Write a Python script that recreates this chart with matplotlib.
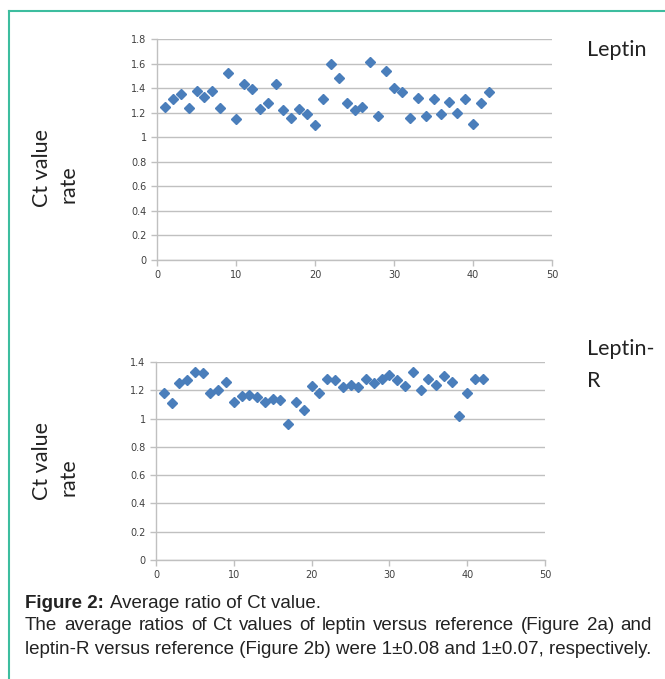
import numpy as np
import matplotlib.pyplot as plt
from matplotlib.lines import Line2D

# sample index and Ct value ratios
samples = list(range(1, 43))
leptin = [1.25, 1.31, 1.35, 1.24, 1.38, 1.33, 1.38, 1.24, 1.52, 1.15,
          1.43, 1.39, 1.23, 1.28, 1.43, 1.22, 1.16, 1.23, 1.19, 1.10,
          1.31, 1.60, 1.48, 1.28, 1.22, 1.25, 1.61, 1.17, 1.54, 1.40,
          1.37, 1.16, 1.32, 1.17, 1.31, 1.19, 1.29, 1.20, 1.31, 1.11,
          1.28, 1.37]
leptin_r = [1.18, 1.11, 1.25, 1.27, 1.33, 1.32, 1.18, 1.20, 1.26, 1.12,
            1.16, 1.17, 1.15, 1.12, 1.14, 1.13, 0.96, 1.12, 1.06, 1.23,
            1.18, 1.28, 1.27, 1.22, 1.24, 1.22, 1.28, 1.25, 1.28, 1.31,
            1.27, 1.23, 1.33, 1.20, 1.28, 1.24, 1.30, 1.26, 1.02, 1.18,
            1.28, 1.28]
xticks = [0, 10, 20, 30, 40, 50]
yticks_top = [0, 0.2, 0.4, 0.6, 0.8, 1, 1.2, 1.4, 1.6, 1.8]
yticks_bot = [0, 0.2, 0.4, 0.6, 0.8, 1, 1.2, 1.4]

W, H = 665, 679
fig = plt.figure(figsize=(W / 100, H / 100), dpi=100)

grid_c = '#c0c0c0'
tick_c = '#404040'
blue = '#4a7ebb'
txt_c = '#222222'


def fmt(v):
    return '0' if v == 0 else ('1' if v == 1 else '%g' % v)


def panel(rect, yvals, yticks, ymax):
    ax = fig.add_axes(rect)
    ax.plot(samples, yvals, 'D', color=blue, ms=5.5, mec=blue, zorder=3)
    ax.set_xlim(0, 50)
    ax.set_ylim(0, ymax)
    ax.set_xticks(xticks)
    ax.set_yticks(yticks)
    ax.set_yticklabels([fmt(v) for v in yticks])
    ax.yaxis.grid(True, color=grid_c, lw=1)
    ax.set_axisbelow(True)
    for s in ['top', 'right']:
        ax.spines[s].set_visible(False)
    for s in ['left', 'bottom']:
        ax.spines[s].set_color(grid_c)
        ax.spines[s].set_linewidth(1)
    ax.tick_params(axis='both', colors=grid_c, labelcolor=tick_c,
                   labelsize=7, length=4, width=1)
    ax.tick_params(axis='x', pad=3)
    return ax


ax1 = panel([157 / W, 1 - 260 / H, 395 / W, 221 / H], leptin, yticks_top, 1.8)
ax2 = panel([156 / W, 1 - 560 / H, 389 / W, 198 / H], leptin_r, yticks_bot, 1.4)

lab_font = 'Lato'
lab_size = 15.5
for yc in [168, 461]:
    fig.text(42 / W, 1 - yc / H, 'Ct value', rotation=90, ha='center', va='center',
             fontsize=lab_size, family=lab_font, color=txt_c)
    fig.text(68 / W, 1 - (yc + 16) / H, 'rate', rotation=90, ha='center', va='center',
             fontsize=lab_size, family=lab_font, color=txt_c)

fig.text(587 / W, 1 - 50 / H, 'Leptin', ha='left', va='center',
         fontsize=lab_size, family=lab_font, color=txt_c)
fig.text(587 / W, 1 - 365 / H, 'Leptin-\nR', ha='left', va='center',
         fontsize=lab_size, family=lab_font, color=txt_c, linespacing=1.75)

# caption
cap_font = 'Liberation Sans'
cap_size = 13.5
x0, x1 = 25, 652
fig.text(x0 / W, 1 - 603 / H, 'Figure 2:', ha='left', va='center', fontsize=cap_size,
         family=cap_font, weight='bold', color=txt_c)
fig.text(110 / W, 1 - 603 / H, 'Average ratio of Ct value.', ha='left', va='center',
         fontsize=cap_size, family=cap_font, color=txt_c)

# justified line: spread the words between x0 and x1
line2 = 'The average ratios of Ct values of leptin versus reference (Figure 2a) and'
words = line2.split()
renderer = fig.canvas.get_renderer()
objs = [fig.text(0, 1 - 626 / H, w, ha='left', va='center', fontsize=cap_size,
                 family=cap_font, color=txt_c) for w in words]
widths = [o.get_window_extent(renderer).width for o in objs]
gap = (x1 - x0 - sum(widths)) / (len(words) - 1)
xpos = x0
for o, wd in zip(objs, widths):
    o.set_x(xpos / W)
    xpos += wd + gap

fig.text(x0 / W, 1 - 649 / H,
         'leptin-R versus reference (Figure 2b) were 1\u00b10.08 and 1\u00b10.07, respectively.',
         ha='left', va='center', fontsize=cap_size, family=cap_font, color=txt_c)

# teal frame lines
teal = '#3dbd9f'
fig.add_artist(Line2D([9 / W, 1], [1 - 11 / H, 1 - 11 / H], color=teal, lw=1.5,
                      transform=fig.transFigure))
fig.add_artist(Line2D([9 / W, 9 / W], [0, 1 - 11 / H], color=teal, lw=1.5,
                      transform=fig.transFigure))

fig.savefig('out.png', dpi=100)
